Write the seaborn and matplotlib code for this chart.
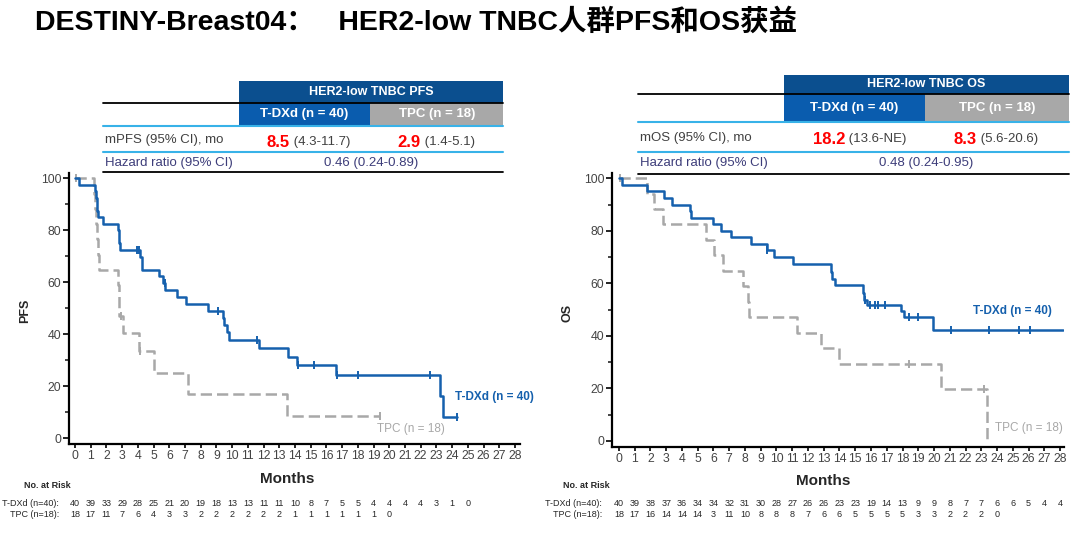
import numpy as np
import matplotlib
matplotlib.use("Agg")
import matplotlib.pyplot as plt
import seaborn as sns
from matplotlib.patches import Rectangle
from matplotlib.lines import Line2D
from matplotlib.transforms import blended_transform_factory

# ---- data ----
months = list(range(29))

# PFS, T-DXd: step times (months) and survival (%)
pfs_tdxd_t = [0, 0.28, 1.27, 1.32, 1.37, 1.43, 1.48, 1.8, 2.76, 2.8, 2.83, 2.86,
              4.14, 4.24, 5.37, 5.6, 5.75, 6.51, 7.06, 8.49, 9.4, 9.5, 9.7, 9.8,
              11.7, 13.58, 14.15, 16.6, 23.23, 23.44, 24.3]
pfs_tdxd_s = [100, 97.5, 95, 92.5, 90, 87.5, 85, 82.5, 80, 77.5, 75, 72.5,
              69.8, 64.7, 62.2, 59.6, 56.9, 54.3, 51.6, 48.9, 46.2, 43.5, 40.7, 37.8,
              34.6, 31.2, 28.2, 24.1, 16.1, 8.1, 8.1]
pfs_tdxd_cens = [3.97, 4.08, 5.7, 9.1, 11.6, 14.2, 15.2, 16.7, 18.0, 22.6, 24.3]

pfs_tpc_t = [0, 1.23, 1.3, 1.36, 1.42, 1.48, 1.55, 2.76, 2.8, 2.83, 3.08, 4.07,
             5.05, 7.17, 13.5, 19.4]
pfs_tpc_s = [100, 94.1, 88.2, 82.4, 76.5, 70.6, 64.7, 58.8, 52.9, 47.1, 40.3, 33.6,
             25.2, 16.8, 8.4, 8.4]
pfs_tpc_cens = [0.05, 2.9, 4.12, 19.4]

# OS
os_tdxd_t = [0, 0.17, 1.76, 2.86, 3.34, 4.51, 4.6, 5.95, 6.48, 7.11, 8.36, 9.38,
             9.84, 11.07, 13.44, 13.55, 13.7, 15.47, 15.55, 15.75, 17.88, 18.1,
             19.92, 28.2]
os_tdxd_s = [100, 97.5, 95, 92.5, 90, 87.5, 85, 82.5, 80, 77.5, 75, 72.5,
             69.9, 67.2, 64.5, 61.8, 59.2, 56.5, 53.8, 51.8, 49.4, 47.3,
             42.3, 42.3]
os_tdxd_cens = [9.4, 15.65, 15.95, 16.25, 16.42, 16.9, 18.4, 19.0, 21.1, 23.5, 25.4, 26.1]

os_tpc_t = [0, 1.76, 2.2, 2.8, 5.52, 6.05, 6.62, 7.89, 8.21, 8.25, 11.32, 12.8,
            13.99, 20.44, 23.39]
os_tpc_s = [100, 94.1, 88.2, 82.4, 76.5, 70.6, 64.7, 58.8, 52.9, 47.1, 41.2, 35.3,
            29.4, 19.6, 0]
os_tpc_cens = [0.06, 18.4, 23.2]

# numbers at risk
pfs_risk_tdxd = [40, 39, 33, 29, 28, 25, 21, 20, 19, 18, 13, 13, 11, 11, 10, 8, 7, 5, 5,
                 4, 4, 4, 4, 3, 1, 0]
pfs_risk_tpc = [18, 17, 11, 7, 6, 4, 3, 3, 2, 2, 2, 2, 2, 2, 1, 1, 1, 1, 1, 1, 0]
os_risk_tdxd = [40, 39, 38, 37, 36, 34, 34, 32, 31, 30, 28, 27, 26, 26, 23, 23, 19, 14,
                13, 9, 9, 8, 7, 7, 6, 6, 5, 4, 4]
os_risk_tpc = [18, 17, 16, 14, 14, 14, 3, 11, 10, 8, 8, 8, 7, 6, 6, 5, 5, 5, 5, 3, 3,
               2, 2, 2, 0]

# table texts
pfs_table = {"title": "HER2-low TNBC PFS", "row": "mPFS (95% CI), mo",
             "med": ["8.5", "2.9"], "ci": [" (4.3-11.7)", " (1.4-5.1)"],
             "hr": "0.46 (0.24-0.89)"}
os_table = {"title": "HER2-low TNBC OS", "row": "mOS (95% CI), mo",
            "med": ["18.2", "8.3"], "ci": [" (13.6-NE)", " (5.6-20.6)"],
            "hr": "0.48 (0.24-0.95)"}
arms = ["T-DXd (n = 40)", "TPC (n = 18)"]

BLUE = "#1560ad"
GRAY = "#a8a8a8"
NAVY = "#0b4f8f"
ARMBLUE = "#0a5cae"
LIGHT = "#38b2e8"
SLATE = "#3d3d7a"
TXT = "#404040"

sns.set_style("white")
plt.rcParams["font.family"] = ["Liberation Sans", "Noto Sans CJK SC", "DejaVu Sans"]

W, H = 1080, 533
fig = plt.figure(figsize=(W / 100, H / 100), dpi=100)


def fx(px):
    return px / W


def fy(py):
    return 1 - py / H


fig.text(fx(35), fy(22), "DESTINY-Breast04：   HER2-low TNBC人群PFS和OS获益",
         fontsize=20.5, fontweight="bold", va="center", ha="left", color="black")


def draw_table(tab, x0, xa, xm, xb, y_h0, y_h1, y_r1, y_row, y_l2, y_hr, y_l3,
               med_split):
    fig.add_artist(Rectangle((fx(xa), fy(y_h1)), fx(xb) - fx(xa), fy(y_h0) - fy(y_h1),
                             color=NAVY, transform=fig.transFigure, lw=0))
    fig.add_artist(Rectangle((fx(xa), fy(y_r1)), fx(xm) - fx(xa), fy(y_h1) - fy(y_r1),
                             color=ARMBLUE, transform=fig.transFigure, lw=0))
    fig.add_artist(Rectangle((fx(xm), fy(y_r1)), fx(xb) - fx(xm), fy(y_h1) - fy(y_r1),
                             color=GRAY, transform=fig.transFigure, lw=0))
    fig.text(fx((xa + xb) / 2), fy((y_h0 + y_h1) / 2), tab["title"], color="white",
             fontsize=9, fontweight="bold", ha="center", va="center")
    fig.text(fx((xa + xm) / 2), fy((y_h1 + y_r1) / 2), arms[0], color="white",
             fontsize=9.5, fontweight="bold", ha="center", va="center")
    fig.text(fx((xm + xb) / 2), fy((y_h1 + y_r1) / 2), arms[1], color="white",
             fontsize=9.5, fontweight="bold", ha="center", va="center")
    for yy, col, lw in [(y_h1, "black", 1.3), (y_r1, LIGHT, 1.5), (y_l2, LIGHT, 1.5),
                        (y_l3, "black", 1.3)]:
        fig.add_artist(Line2D([fx(x0), fx(xb)], [fy(yy), fy(yy)], color=col, lw=lw,
                              transform=fig.transFigure))
    fig.text(fx(x0 + 2), fy(y_row), tab["row"], color=TXT, fontsize=9.5,
             ha="left", va="center")
    for i in range(2):
        fig.text(fx(med_split[i]), fy(y_row + 2), tab["med"][i], color="#ff0000",
                 fontsize=12, fontweight="bold", ha="right", va="center")
        fig.text(fx(med_split[i]), fy(y_row + 2), tab["ci"][i], color=TXT,
                 fontsize=9.5, ha="left", va="center")
    fig.text(fx(x0 + 2), fy(y_hr), "Hazard ratio (95% CI)", color=SLATE, fontsize=9.5,
             ha="left", va="center")
    fig.text(fx((xa + xb) / 2), fy(y_hr), tab["hr"], color=SLATE, fontsize=9.5,
             ha="center", va="center")


draw_table(pfs_table, 103, 238.6, 370.2, 503.4, 81.3, 103, 126, 140.5, 152, 163, 172,
           [290, 421])
draw_table(os_table, 638, 783.5, 925, 1069, 74.5, 94.4, 122, 137.5, 152, 163, 174,
           [845, 977])


def step_at(t, s, c):
    idx = np.searchsorted(np.array(t), np.array(c), side="right") - 1
    return np.array(s)[idx]


def km(ax, t, s, cens, color, dashed):
    ls = (0, (4.5, 2)) if dashed else "-"
    sns.lineplot(x=t, y=s, ax=ax, color=color, linewidth=1.8, linestyle=ls,
                 drawstyle="steps-post", errorbar=None, sort=False)
    ax.plot(cens, step_at(t, s, cens), linestyle="none", marker="|", ms=6,
            mew=1.4, color=color)


def style_axes(ax, ylab, xlabel_xy, ylabel_xy):
    ax.set_xticks(months)
    ax.set_yticks([0, 20, 40, 60, 80, 100])
    ax.set_yticks([10, 30, 50, 70, 90], minor=True)
    ax.tick_params(axis="both", which="major", labelsize=8.8, colors="black",
                   labelcolor="#444444", pad=1.5)
    ax.tick_params(axis="x", which="major", direction="out", length=3, width=1.2,
                   bottom=True)
    ax.tick_params(axis="y", which="major", direction="out", length=4, width=1.2,
                   left=True)
    ax.tick_params(axis="y", which="minor", direction="out", length=3, width=1.2,
                   left=True)
    for sp in ["top", "right"]:
        ax.spines[sp].set_visible(False)
    for sp in ["left", "bottom"]:
        ax.spines[sp].set_linewidth(1.6)
        ax.spines[sp].set_color("black")
    ax.set_xlabel("Months", fontsize=11, fontweight="bold")
    ax.set_ylabel(ylab, fontsize=9, fontweight="bold")
    ax.xaxis.set_label_coords(*xlabel_xy)
    ax.yaxis.set_label_coords(*ylabel_xy)


def risk_rows(ax, x_label_end, x_noat, r_tdxd, r_tpc):
    tr = blended_transform_factory(ax.transData, fig.transFigure)
    fig.text(fx(x_noat), fy(485.5), "No. at Risk", fontsize=6.5, fontweight="bold",
             ha="left", va="center")
    fig.text(fx(x_label_end), fy(503.4), "T-DXd (n=40):", fontsize=6.5, ha="right",
             va="center")
    fig.text(fx(x_label_end), fy(514.8), "TPC (n=18):", fontsize=6.5, ha="right",
             va="center")
    for i, v in enumerate(r_tdxd):
        ax.text(months[i], fy(503.4), str(v), transform=tr, fontsize=6.5,
                ha="center", va="center")
    for i, v in enumerate(r_tpc):
        ax.text(months[i], fy(514.8), str(v), transform=tr, fontsize=6.5,
                ha="center", va="center")


# ---- PFS panel ----
ax1 = fig.add_axes([fx(69), fy(444), fx(520) - fx(69), fy(173) - fy(444)])
km(ax1, pfs_tpc_t, pfs_tpc_s, pfs_tpc_cens, GRAY, True)
km(ax1, pfs_tdxd_t, pfs_tdxd_s, pfs_tdxd_cens, BLUE, False)
ax1.set_xlim(-0.38, 28.32)
ax1.set_ylim(-2.3, 102)
style_axes(ax1, "PFS", (0.483, -0.105), (-0.085, 0.49))
ax1.text(26.7, 15.8, arms[0], color=BLUE, fontsize=8.5, fontweight="bold",
         ha="center", va="center")
ax1.text(21.4, 3.3, arms[1], color=GRAY, fontsize=8.5, ha="center", va="center")
risk_rows(ax1, 59, 24, pfs_risk_tdxd, pfs_risk_tpc)

# ---- OS panel ----
ax2 = fig.add_axes([fx(612), fy(447), fx(1064) - fx(612), fy(173) - fy(447)])
km(ax2, os_tpc_t, os_tpc_s, os_tpc_cens, GRAY, True)
km(ax2, os_tdxd_t, os_tdxd_s, os_tdxd_cens, BLUE, False)
ax2.set_xlim(-0.44, 28.25)
ax2.set_ylim(-2.3, 102)
style_axes(ax2, "OS", (0.467, -0.1), (-0.085, 0.49))
ax2.text(24.95, 49.4, arms[0], color=BLUE, fontsize=8.5, fontweight="bold",
         ha="center", va="center")
ax2.text(26.0, 4.9, arms[1], color=GRAY, fontsize=8.5, ha="center", va="center")
risk_rows(ax2, 602, 563, os_risk_tdxd, os_risk_tpc)

fig.savefig("out.png", dpi=100)
